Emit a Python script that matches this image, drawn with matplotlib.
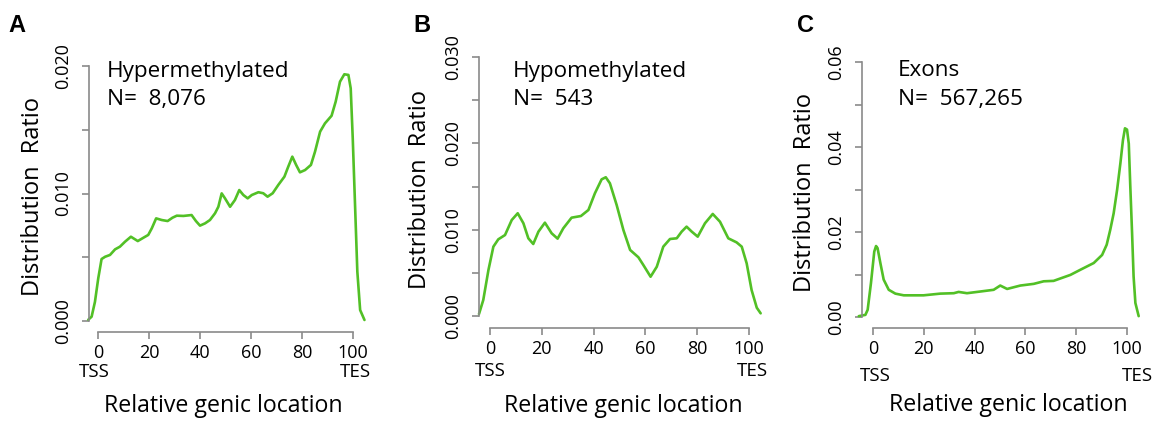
import matplotlib
matplotlib.use("Agg")
import matplotlib.pyplot as plt

plt.rcParams['font.family'] = ['Open Sans', 'DejaVu Sans']

# ---- data ----
hyper_x = [-3.8, -2.5, -1.2, 0.1, 1.4, 2.8, 4.7, 6.7, 8.6, 10.6, 12.9, 15.6, 17.8, 19.7,
           21.1, 22.8, 25.0, 27.3, 29.2, 30.9, 33.5, 36.7, 38.4, 40.0, 42.0, 43.9, 45.9,
           47.2, 48.5, 49.8, 51.8, 53.7, 55.4, 57.0, 58.7, 60.3, 62.9, 64.8, 66.5, 68.5,
           70.7, 73.1, 74.6, 76.2, 77.7, 79.2, 81.2, 83.5, 85.1, 87.1, 89.0, 91.6, 93.2,
           94.9, 96.6, 98.2, 99.1, 99.9, 100.8, 101.7, 102.8, 104.5]
hyper_y = [0.0001, 0.00034, 0.0015, 0.00335, 0.00486, 0.00504, 0.00518, 0.00562, 0.00583,
           0.00622, 0.00661, 0.00627, 0.00653, 0.00675, 0.00727, 0.00805, 0.00792, 0.00784,
           0.0081, 0.00826, 0.00824, 0.00831, 0.00784, 0.00748, 0.00766, 0.00792, 0.00845,
           0.00896, 0.01001, 0.00962, 0.00896, 0.00949, 0.01027, 0.00988, 0.00962, 0.00988,
           0.0101, 0.01002, 0.00975, 0.01002, 0.01067, 0.01132, 0.0121, 0.01289, 0.01224,
           0.01166, 0.01184, 0.01224, 0.01328, 0.01485, 0.0155, 0.0161, 0.0172, 0.01877,
           0.01935, 0.0193, 0.01825, 0.01433, 0.0091, 0.00387, 0.00086, 0.00008]

hypo_x = [-4.25, -2.6, -0.6, 1.3, 3.2, 5.8, 8.4, 10.7, 12.9, 14.8, 16.7, 18.7, 21.2, 23.8,
          26.1, 28.3, 31.5, 35.1, 38.0, 40.5, 43.1, 44.7, 46.3, 48.9, 51.5, 54.1, 57.3,
          59.2, 62.0, 64.4, 66.9, 69.5, 72.1, 74.0, 75.9, 77.9, 80.2, 83.0, 86.0, 88.8,
          92.0, 95.2, 97.2, 99.1, 101.0, 103.0, 104.5]
hypo_y = [0.00023, 0.00185, 0.00533, 0.00803, 0.00888, 0.00938, 0.01112, 0.0119, 0.01074,
          0.009, 0.00834, 0.00977, 0.01081, 0.00958, 0.00896, 0.01016, 0.01139, 0.01158,
          0.01228, 0.01421, 0.01583, 0.01607, 0.01537, 0.01286, 0.00996, 0.00765, 0.0068,
          0.00591, 0.00455, 0.00571, 0.00803, 0.00892, 0.009, 0.00977, 0.01035, 0.00977,
          0.00919, 0.01074, 0.01182, 0.01092, 0.009, 0.00853, 0.00803, 0.0061, 0.00301,
          0.00096, 0.00031]

exon_x = [-5.6, -3.0, -2.1, -0.8, 0.5, 1.2, 1.8, 2.9, 4.2, 6.2, 8.8, 12.1, 19.9, 26.5,
          31.8, 33.7, 37.0, 42.3, 47.5, 50.1, 52.8, 58.0, 63.3, 67.2, 71.1, 77.7, 81.6,
          86.9, 90.2, 92.0, 93.4, 94.75, 96.1, 97.4, 98.4, 99.2, 100.0, 100.7, 101.3,
          102.0, 102.6, 103.3, 104.6]
exon_y = [0.0002, 0.0005, 0.0017, 0.008, 0.0154, 0.0167, 0.0162, 0.0127, 0.0088, 0.0064,
          0.0055, 0.0051, 0.0051, 0.0055, 0.0056, 0.0059, 0.0056, 0.0060, 0.0064, 0.0074,
          0.0066, 0.0074, 0.0078, 0.0084, 0.0085, 0.0099, 0.0111, 0.0127, 0.0146, 0.0170,
          0.0205, 0.0244, 0.0299, 0.0362, 0.0416, 0.0444, 0.0441, 0.0408, 0.0307, 0.0197,
          0.0095, 0.0033, 0.0002]

letters = ['A', 'B', 'C']
titles = ['Hypermethylated', 'Hypomethylated', 'Exons']
counts = ['N=  8,076', 'N=  543', 'N=  567,265']
y_ticks = [[0, 0.005, 0.010, 0.015, 0.020],
           [0, 0.005, 0.010, 0.015, 0.020, 0.025, 0.030],
           [0, 0.01, 0.02, 0.03, 0.04, 0.05, 0.06]]
y_labels = [['0.000', '', '0.010', '', '0.020'],
            ['0.000', '', '0.010', '', '0.020', '', '0.030'],
            ['0.00', '', '0.02', '', '0.04', '', '0.06']]
x_ticks = [0, 20, 40, 60, 80, 100]

W, H = 1167, 437
GREEN = '#52c026'
GREY = '#8a8a8a'

# layout in pixels: x of data 0, x of data 100, y of value 0, y of top tick, top value,
# spine x (px), spine y (px)
panels = [
    dict(x0=98, x100=353, y0=321, ytp=66, ytv=0.020, sx=89, sy=332,
         lx=17, ylab=33, xlab=223, tss=(94, 372), tes=(355, 372), tx=107, xl_y=406),
    dict(x0=490, x100=749, y0=316, ytp=57, ytv=0.030, sx=479, sy=328,
         lx=422, ylab=420, xlab=623, tss=(490, 371), tes=(752, 371), tx=513, xl_y=406),
    dict(x0=873, x100=1127, y0=317, ytp=62, ytv=0.06, sx=862, sy=328,
         lx=805, ylab=805, xlab=1008, tss=(875, 376), tes=(1137, 376), tx=898, xl_y=405),
]
series = [(hyper_x, hyper_y), (hypo_x, hypo_y), (exon_x, exon_y)]

fig = plt.figure(figsize=(W / 100, H / 100), dpi=100)


def fx(px):
    return px / W


def fy(py):
    return 1 - py / H


for i, p in enumerate(panels):
    sx = (p['x100'] - p['x0']) / 100.0
    sy = (p['y0'] - p['ytp']) / p['ytv']
    xlim = (-8, 108)
    ybot = -(p['sy'] - p['y0']) / sy
    ylim = (ybot, p['ytv'] * 1.06)
    left = p['x0'] + xlim[0] * sx
    right = p['x0'] + xlim[1] * sx
    bottom = p['y0'] - ylim[0] * sy
    top = p['y0'] - ylim[1] * sy
    ax = fig.add_axes([fx(left), fy(bottom), (right - left) / W, (bottom - top) / H])
    ax.set_xlim(xlim)
    ax.set_ylim(ylim)

    xs, ys = series[i]
    ax.plot(xs, ys, color=GREEN, lw=1.9, solid_joinstyle='round', solid_capstyle='round')

    for s in ['top', 'right']:
        ax.spines[s].set_visible(False)
    ax.spines['left'].set_position(('data', (p['sx'] - p['x0']) / sx))
    ax.spines['bottom'].set_position(('data', ybot))
    ax.spines['left'].set_bounds(0, p['ytv'])
    ax.spines['bottom'].set_bounds(0, 100)
    for s in ['left', 'bottom']:
        ax.spines[s].set_color(GREY)
        ax.spines[s].set_linewidth(1.2)

    ax.set_xticks(x_ticks)
    ax.set_xticklabels([str(t) for t in x_ticks])
    ax.set_yticks(y_ticks[i])
    ax.set_yticklabels(y_labels[i])
    ax.tick_params(axis='both', colors=GREY, labelcolor='black', labelsize=13,
                   length=5, width=1.2)
    ax.tick_params(axis='x', pad=4)
    ax.tick_params(axis='y', pad=7)
    for lab in ax.get_yticklabels():
        lab.set_rotation(90)
        lab.set_va('center')

    ax.text((p['tx'] - p['x0']) / sx, (p['y0'] - 71) / sy, titles[i],
            fontsize=16.2, va='center', ha='left')
    ax.text((p['tx'] - p['x0']) / sx, (p['y0'] - 99) / sy, counts[i],
            fontsize=16.2, va='center', ha='left')

    fig.text(fx(p['lx']), fy(26), letters[i], fontsize=17, fontweight='bold',
             ha='center', va='center', family=['Liberation Sans', 'DejaVu Sans'])
    fig.text(fx(p['ylab']), fy((p['y0'] + p['ytp']) / 2 + 3), 'Distribution  Ratio',
             rotation=90, fontsize=17, ha='center', va='center')
    fig.text(fx(p['xlab']), fy(p['xl_y']), 'Relative genic location',
             fontsize=16.7, ha='center', va='center')
    fig.text(fx(p['tss'][0]), fy(p['tss'][1]), 'TSS', fontsize=13.5, ha='center', va='center')
    fig.text(fx(p['tes'][0]), fy(p['tes'][1]), 'TES', fontsize=13.5, ha='center', va='center')

fig.savefig('out.png', dpi=100)
